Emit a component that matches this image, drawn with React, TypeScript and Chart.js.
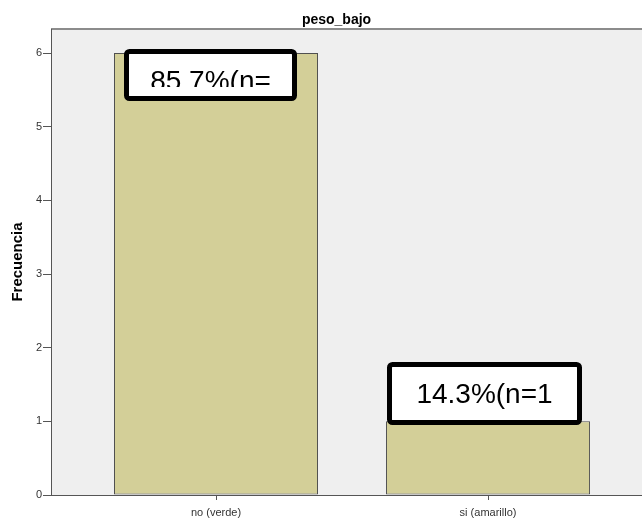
import React, { useEffect, useRef } from "react";
import { Chart, registerables } from "chart.js";

Chart.register(...registerables);

const chartTitle = "peso_bajo";
const yAxisTitle = "Frecuencia";
const categories = ["no (verde)", "si (amarillo)"];
const frequencies = [6, 1];
const labelTexts = ["85.7%(n=", "14.3%(n=1"];
const yTicks = [0, 1, 2, 3, 4, 5, 6];

const FONT = "Arial, 'Liberation Sans', sans-serif";

// box geometry relative to each bar's top-centre (SPSS label boxes)
const boxSpecs = [
  { l: -92, r: 81, t: -4, b: 48, base: 37, clipB: 34 },
  { l: -101, r: 94, t: -59, b: 4, base: -18, clipB: -2 },
];

const bgPlugin = {
  id: "bgPlugin",
  beforeDraw(chart: any) {
    const { ctx, chartArea: a } = chart;
    ctx.save();
    ctx.fillStyle = "#efefef";
    ctx.fillRect(a.left, a.top, a.right - a.left, a.bottom - a.top);
    ctx.fillStyle = "#8c8c8c";
    ctx.fillRect(a.left, a.top - 1, a.right - a.left, 2);
    ctx.fillStyle = "#000";
    ctx.font = "bold 14px " + FONT;
    ctx.textAlign = "center";
    ctx.textBaseline = "alphabetic";
    ctx.fillText(chartTitle, (a.left + a.right) / 2 - 10, 24);
    ctx.restore();
  },
};

function boxPath(ctx: any, x: number, y: number, w: number, h: number, r: number) {
  ctx.beginPath();
  if (ctx.roundRect) {
    ctx.roundRect(x, y, w, h, r);
  } else {
    ctx.rect(x, y, w, h);
  }
}

const labelPlugin = {
  id: "labelPlugin",
  afterDatasetsDraw(chart: any) {
    const { ctx } = chart;
    const meta = chart.getDatasetMeta(0);
    meta.data.forEach((el: any, i: number) => {
      const spec = boxSpecs[i];
      const text = labelTexts[i];
      if (!spec || !text) return;
      const { x, y } = el.getProps(["x", "y"], true);
      const L = Math.round(x + spec.l);
      const R = Math.round(x + spec.r);
      const T = Math.round(y + spec.t);
      const B = Math.round(y + spec.b);
      ctx.save();
      ctx.fillStyle = "#ffffff";
      boxPath(ctx, L + 2.5, T + 2.5, R - L - 5, B - T - 5, 3);
      ctx.fill();
      // text, clipped to inner box
      ctx.save();
      ctx.beginPath();
      ctx.rect(L + 5, T + 5, R - L - 10, Math.round(y + spec.clipB) - (T + 5));
      ctx.clip();
      ctx.fillStyle = "#000";
      ctx.font = "28px " + FONT;
      ctx.textAlign = "center";
      ctx.textBaseline = "alphabetic";
      ctx.fillText(text, (L + R) / 2, Math.round(y + spec.base));
      ctx.restore();
      ctx.strokeStyle = "#000";
      ctx.lineWidth = 5;
      ctx.lineJoin = "round";
      boxPath(ctx, L + 2.5, T + 2.5, R - L - 5, B - T - 5, 3);
      ctx.stroke();
      ctx.restore();
    });
  },
};

export default function App() {
  const ref = useRef<HTMLCanvasElement | null>(null);

  useEffect(() => {
    if (!ref.current) return;
    const chart = new Chart(ref.current, {
      type: "bar",
      data: {
        datasets: [
          {
            label: yAxisTitle,
            data: frequencies.map((v, i) => ({ x: i, y: v })),
            backgroundColor: "#d3cf98",
            borderColor: "#505050",
            borderWidth: 1,
            borderSkipped: false,
            categoryPercentage: 0.75,
            barPercentage: 1,
          },
        ],
      },
      options: {
        animation: false,
        responsive: false,
        devicePixelRatio: 1,
        layout: { padding: { top: 29, left: 0, right: 0, bottom: 0 } },
        plugins: {
          legend: { display: false },
          title: { display: false },
          tooltip: { enabled: false },
        },
        scales: {
          x: {
            type: "linear",
            min: -0.6066,
            max: 1.566,
            offset: false,
            afterBuildTicks: (s: any) => {
              s.ticks = categories.map((_, i) => ({ value: i }));
            },
            afterFit: (s: any) => {
              s.height = 26;
            },
            ticks: {
              callback: (v: any) => categories[v as number] ?? "",
              color: "#333",
              font: { size: 11, family: FONT },
              padding: 6,
              maxRotation: 0,
              autoSkip: false,
            },
            grid: {
              offset: false,
              drawOnChartArea: false,
              drawTicks: true,
              tickLength: 5,
              tickColor: "#555",
            },
            border: { display: true, color: "#555", width: 1 },
          },
          y: {
            type: "linear",
            min: 0,
            max: 6.326,
            afterBuildTicks: (s: any) => {
              s.ticks = yTicks.map((v) => ({ value: v }));
            },
            afterFit: (s: any) => {
              s.width = 51;
            },
            ticks: {
              color: "#333",
              font: { size: 11, family: FONT },
              padding: 1,
            },
            grid: {
              drawOnChartArea: false,
              drawTicks: true,
              tickLength: 8,
              tickColor: "#555",
            },
            border: { display: true, color: "#555", width: 1 },
            title: {
              display: true,
              text: yAxisTitle,
              color: "#000",
              font: { size: 15, weight: "bold", family: FONT },
              padding: { top: 9, bottom: 0 },
            },
          },
        },
      },
      plugins: [bgPlugin, labelPlugin],
    } as any);
    return () => chart.destroy();
  }, []);

  return (
    <div style={{ position: "absolute", left: 0, top: 0, width: 642, height: 521 }}>
      <canvas ref={ref} width={642} height={521} style={{ display: "block" }} />
    </div>
  );
}
